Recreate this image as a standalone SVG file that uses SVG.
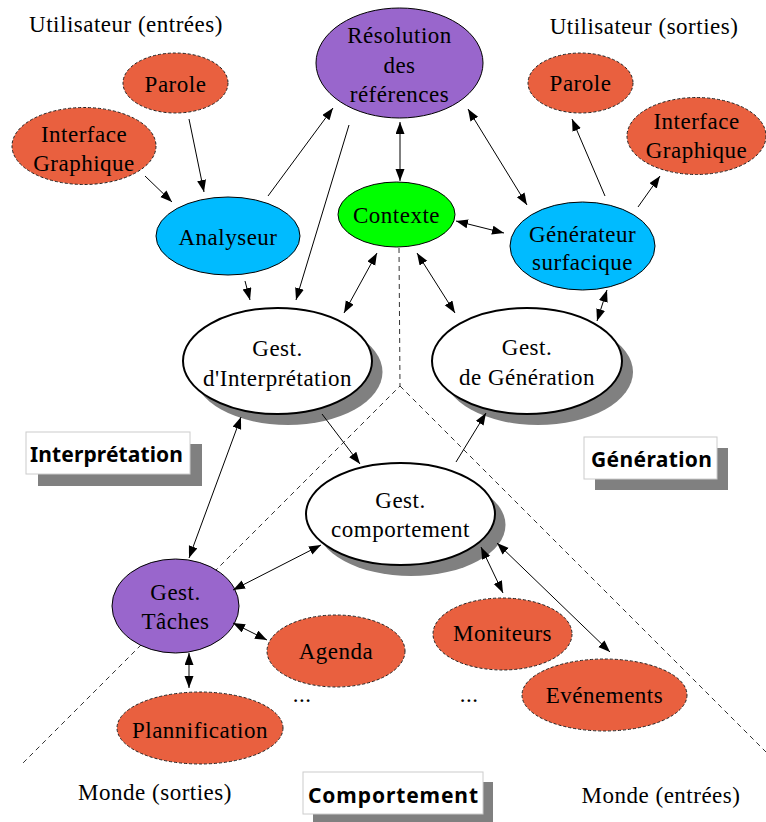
<svg xmlns="http://www.w3.org/2000/svg" width="766" height="822" viewBox="0 0 766 822">
<defs>
<marker id="ah" markerUnits="userSpaceOnUse" markerWidth="13" markerHeight="10" refX="12" refY="4.5" orient="auto-start-reverse">
<path d="M0,0 L12,4.5 L0,9 z" fill="#000"/>
</marker>
<style>
.t{font-family:"Liberation Serif","Times New Roman",serif;font-size:23px;letter-spacing:0.5px;fill:#000;text-anchor:middle}
.lb{font-family:"Noto Sans","Open Sans",sans-serif;font-weight:bold;font-size:21px;fill:#000}
.or{fill:#E9603F;stroke:#222;stroke-width:1;stroke-dasharray:3,2}
.pu{fill:#9966CC;stroke:#000;stroke-width:1}
.bl{fill:#00BBFF;stroke:#000;stroke-width:1}
.gr{fill:#00FF00;stroke:#000;stroke-width:1}
.wh{fill:#fff;stroke:#000;stroke-width:2}
.sh{fill:#808080}
.box{fill:#fff;stroke:#ccc;stroke-width:1}
.c line{stroke:#000;stroke-width:1;marker-end:url(#ah)}
.c line.d{marker-start:url(#ah)}
.dv{fill:none;stroke:#333;stroke-width:1;stroke-dasharray:5,4}
</style>
</defs>
<rect width="766" height="822" fill="#fff"/>

<g id="dividers">
<path class="dv" d="M399,248 L400,386 L23,763"/>
<path class="dv" d="M400,386 L766,752"/>
</g>

<g id="titles">
<text class="t" x="126" y="32">Utilisateur (entrées)</text>
<text class="t" x="644" y="34">Utilisateur (sorties)</text>
<text class="t" x="155" y="800">Monde (sorties)</text>
<text class="t" x="661" y="803">Monde (entrées)</text>
<text class="t" x="302" y="702">...</text>
<text class="t" x="469" y="702">...</text>
</g>

<g id="label-interpretation">
<rect class="sh" x="38" y="444" width="164" height="42"/>
<rect class="box" x="26" y="432" width="164" height="42"/>
<text class="lb" x="30" y="462" textLength="153">Interprétation</text>
</g>
<g id="label-generation">
<rect class="sh" x="595" y="448" width="133" height="42"/>
<rect class="box" x="584" y="437" width="133" height="42"/>
<text class="lb" x="591" y="467" textLength="121">Génération</text>
</g>
<g id="label-comportement">
<rect class="sh" x="313" y="782" width="180" height="42"/>
<rect class="box" x="303" y="772" width="180" height="42"/>
<text class="lb" x="308" y="803" textLength="170">Comportement</text>
</g>

<g id="parole-in">
<ellipse class="or" cx="175.5" cy="83" rx="52.5" ry="30"/>
<text class="t" x="175.5" y="92">Parole</text>
</g>
<g id="interface-in">
<ellipse class="or" cx="84" cy="146" rx="72" ry="38.5"/>
<text class="t" x="84" y="142">Interface</text>
<text class="t" x="84" y="171">Graphique</text>
</g>
<g id="analyseur">
<ellipse class="bl" cx="228" cy="236" rx="72" ry="39"/>
<text class="t" x="228" y="245">Analyseur</text>
</g>
<g id="resolution">
<ellipse class="pu" cx="399.5" cy="63" rx="83.5" ry="55"/>
<text class="t" x="399.5" y="43">Résolution</text>
<text class="t" x="399.5" y="73">des</text>
<text class="t" x="399.5" y="102">références</text>
</g>
<g id="contexte">
<ellipse class="gr" cx="396.5" cy="214.5" rx="58.5" ry="32.5"/>
<text class="t" x="396.5" y="223">Contexte</text>
</g>
<g id="generateur">
<ellipse class="bl" cx="582.5" cy="246" rx="72.5" ry="44"/>
<text class="t" x="582.5" y="242">Générateur</text>
<text class="t" x="582.5" y="270">surfacique</text>
</g>
<g id="parole-out">
<ellipse class="or" cx="580.5" cy="83" rx="52.5" ry="30"/>
<text class="t" x="580.5" y="91">Parole</text>
</g>
<g id="interface-out">
<ellipse class="or" cx="696.5" cy="136" rx="69.5" ry="38.5"/>
<text class="t" x="696.5" y="129">Interface</text>
<text class="t" x="696.5" y="158">Graphique</text>
</g>
<g id="gest-interpretation">
<ellipse class="sh" cx="288" cy="372" rx="94.5" ry="53"/>
<ellipse class="wh" cx="277.5" cy="361" rx="94.5" ry="53"/>
<text class="t" x="277.5" y="356">Gest.</text>
<text class="t" x="277.5" y="386">d'Interprétation</text>
</g>
<g id="gest-generation">
<ellipse class="sh" cx="538" cy="372" rx="95" ry="53"/>
<ellipse class="wh" cx="527" cy="361" rx="95" ry="53"/>
<text class="t" x="527" y="355">Gest.</text>
<text class="t" x="527" y="385">de Génération</text>
</g>
<g id="gest-comportement">
<ellipse class="sh" cx="411" cy="525" rx="94.5" ry="51"/>
<ellipse class="wh" cx="400.5" cy="514" rx="94.5" ry="51"/>
<text class="t" x="400.5" y="508">Gest.</text>
<text class="t" x="400.5" y="537">comportement</text>
</g>
<g id="gest-taches">
<ellipse class="pu" cx="175.5" cy="606" rx="63.5" ry="47"/>
<text class="t" x="175.5" y="600">Gest.</text>
<text class="t" x="175.5" y="629">Tâches</text>
</g>
<g id="agenda">
<ellipse class="or" cx="336" cy="651" rx="69" ry="36"/>
<text class="t" x="336" y="659">Agenda</text>
</g>
<g id="plannification">
<ellipse class="or" cx="200" cy="728" rx="83" ry="36"/>
<text class="t" x="200" y="738">Plannification</text>
</g>
<g id="moniteurs">
<ellipse class="or" cx="502.5" cy="634" rx="69.5" ry="36"/>
<text class="t" x="502.5" y="641">Moniteurs</text>
</g>
<g id="evenements">
<ellipse class="or" cx="604.5" cy="695" rx="82.5" ry="36"/>
<text class="t" x="604.5" y="703">Evénements</text>
</g>

<g id="connectors" class="c">
<line x1="189" y1="119" x2="204" y2="192"/>
<line x1="145" y1="176" x2="172" y2="202"/>
<line x1="268" y1="196" x2="333" y2="108"/>
<line x1="349" y1="125" x2="296" y2="300"/>
<line x1="245" y1="281" x2="250" y2="300"/>
<line class="d" x1="400" y1="122" x2="400" y2="181"/>
<line class="d" x1="468" y1="109" x2="527" y2="205"/>
<line class="d" x1="456" y1="221" x2="504" y2="233"/>
<line x1="605" y1="196" x2="572" y2="119"/>
<line x1="638" y1="207" x2="660" y2="176"/>
<line class="d" x1="377" y1="253" x2="344" y2="313"/>
<line class="d" x1="417" y1="253" x2="455" y2="313"/>
<line class="d" x1="607" y1="290" x2="597" y2="321"/>
<line x1="322" y1="414" x2="360" y2="464"/>
<line x1="456" y1="462" x2="486" y2="413"/>
<line class="d" x1="241" y1="417" x2="189" y2="558"/>
<line class="d" x1="321" y1="545" x2="233" y2="590"/>
<line class="d" x1="233" y1="623" x2="267" y2="640"/>
<line class="d" x1="189" y1="653" x2="189" y2="688"/>
<line class="d" x1="481" y1="547" x2="503" y2="593"/>
<line class="d" x1="497" y1="543" x2="610" y2="652"/>
</g>
</svg>
